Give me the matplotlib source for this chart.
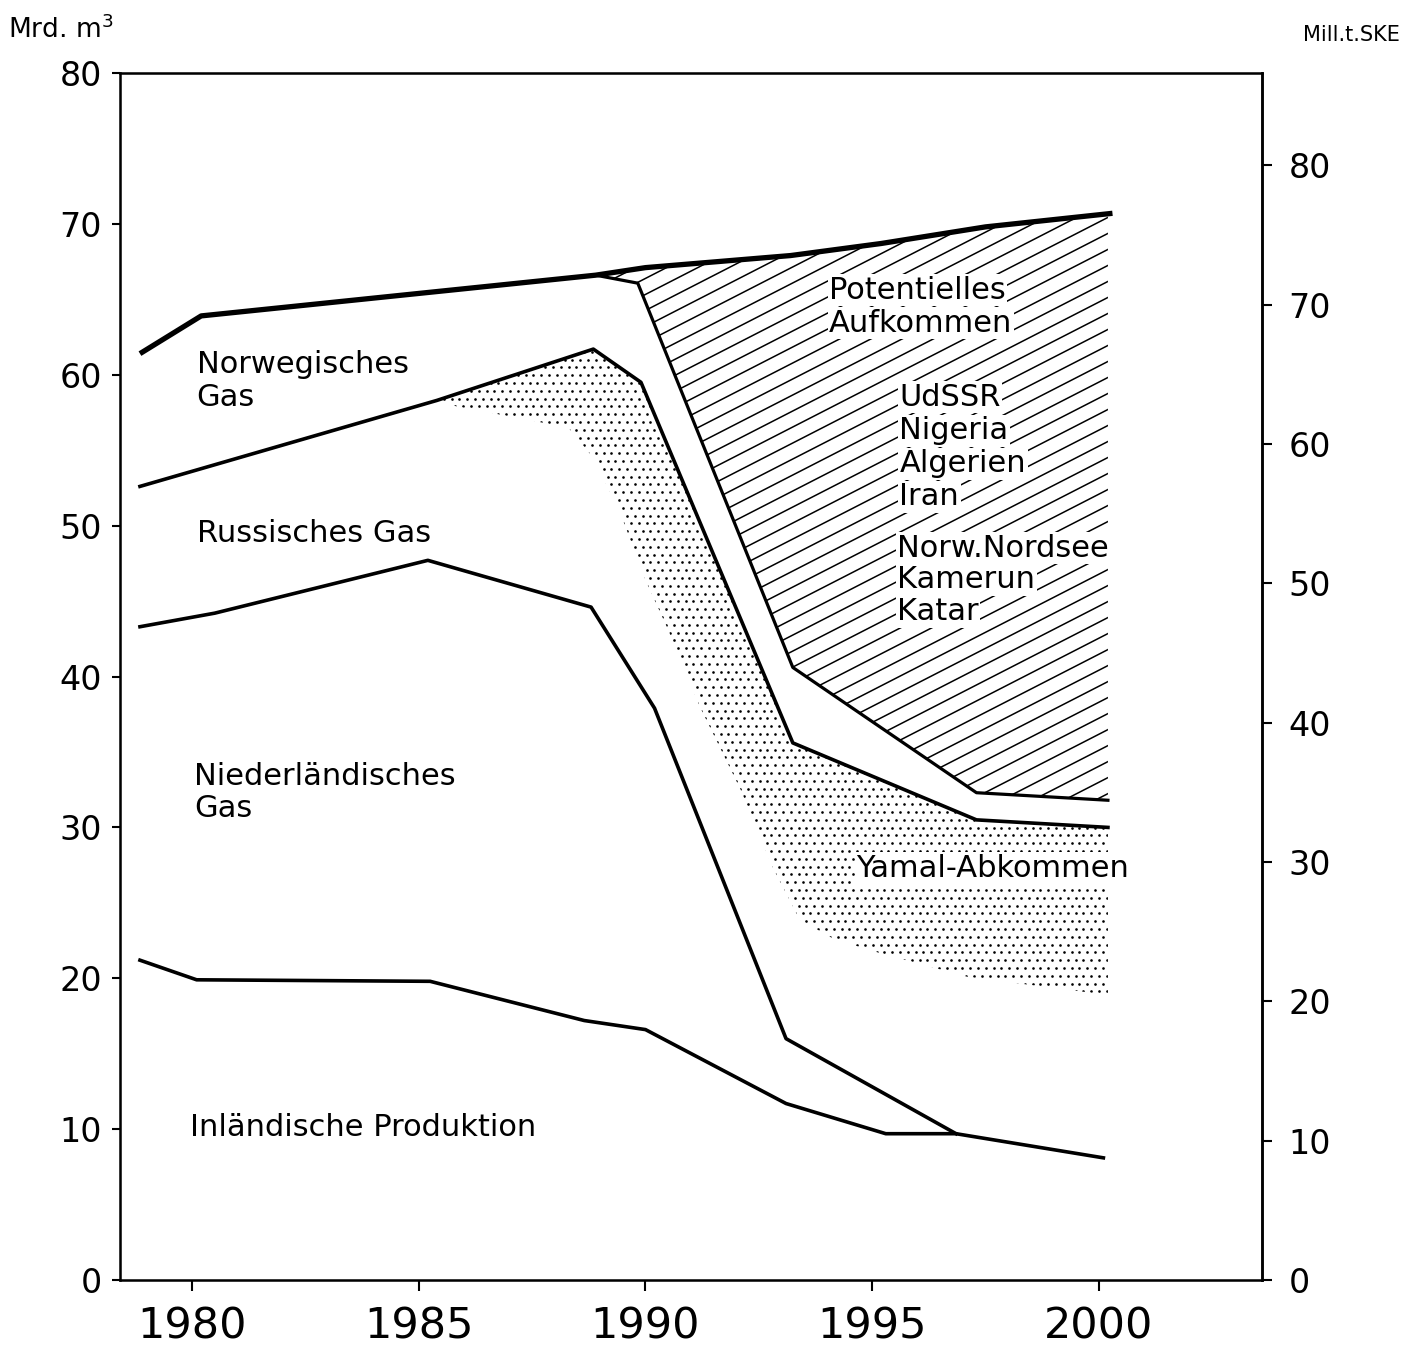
import numpy as np
import matplotlib
matplotlib.use('Agg')
import matplotlib.pyplot as plt
from matplotlib import font_manager
from matplotlib.collections import LineCollection

# --- data (Mrd. m3) ---
total_years = [1978.85, 1980.2, 1988.9, 1990.0, 1993.2, 1995.2, 1997.5, 2000.3]
total_vals = [61.4, 63.9, 66.6, 67.1, 67.9, 68.7, 69.8, 70.7]

pot_years = [1988.9, 1989.83, 1993.25, 1997.3, 2000.2]   # lower edge of "Potentielles Aufkommen"
pot_vals = [66.6, 66.07, 40.6, 32.3, 31.8]

norw_years = [1978.85, 1985.4, 1988.85, 1989.9, 1993.25, 1997.3, 2000.2]  # top of russian gas
norw_vals = [52.6, 58.3, 61.7, 59.5, 35.6, 30.5, 30.0]

russ_years = [1978.85, 1980.5, 1985.2, 1988.8, 1990.2, 1993.1, 1996.85]   # top of dutch gas
russ_vals = [43.3, 44.2, 47.7, 44.6, 37.9, 16.0, 9.7]

inl_years = [1978.85, 1980.1, 1985.25, 1988.65, 1990.0, 1993.1, 1995.3, 1996.85, 2000.1]
inl_vals = [21.2, 19.9, 19.8, 17.2, 16.6, 11.7, 9.7, 9.7, 8.1]

yamal_years = [1985.5, 1987.6, 1988.3, 1988.85, 1989.45, 1990.0, 1990.5, 1991.2,
               1992.1, 1992.8, 1993.4, 1994.1, 1994.9, 1997.1, 2000.2]
yamal_low = [58.1, 56.9, 56.5, 54.5, 50.8, 46.4, 43.1, 38.0,
             32.5, 27.4, 23.9, 22.7, 21.9, 20.1, 18.9]

x_ticks = [1980, 1985, 1990, 1995, 2000]
y_ticks = list(range(0, 81, 10))
ske_ticks = list(range(0, 81, 10))
ske_factor = 1.083  # Mill. t SKE per Mrd. m3

plt.rcParams['font.family'] = ['DejaVu Sans']

# narrow face for the year labels if there is one
try:
    font_manager.findfont('Liberation Sans Narrow', fallback_to_default=False)
    year_font, year_size = 'Liberation Sans Narrow', 39
except ValueError:
    year_font, year_size = 'DejaVu Sans', 31

fig = plt.figure(figsize=(14.07, 13.49), dpi=100)
ax = fig.add_axes([0.0853, 0.0511, 0.8117, 0.8948])
ax.set_xlim(1978.41, 2003.6)
ax.set_ylim(0, 80)

# hatched area: potential supply
gx = np.linspace(pot_years[0], pot_years[-1], 400)
poly_pot = ax.fill_between(gx, np.interp(gx, total_years, total_vals),
                           np.interp(gx, pot_years, pot_vals),
                           facecolor='none', edgecolor='none', lw=0)
path_pot = poly_pot.get_paths()[0]
slope = 0.485
segs = [[(0, c), (1, c + slope)] for c in np.arange(-0.6, 1.0, 0.01326)]
hatch = LineCollection(segs, colors='black', linewidths=1.1, transform=ax.transAxes, zorder=2)
ax.add_collection(hatch)
hatch.set_clip_path(path_pot, ax.transData)

# stippled area: Yamal agreement
sx = np.linspace(yamal_years[0], yamal_years[-1], 400)
poly_yam = ax.fill_between(sx, np.interp(sx, norw_years, norw_vals),
                           np.interp(sx, yamal_years, yamal_low),
                           facecolor='none', edgecolor='none', lw=0)
path_yam = poly_yam.get_paths()[0]
dx, dy = 7.8 / 1142, 7.8 / 1207
rows = np.arange(0, 1, dy)
pts = []
for i, yy in enumerate(rows):
    xs = np.arange((i % 2) * dx / 2, 1, dx)
    pts.append(np.column_stack([xs, np.full_like(xs, yy)]))
pts = np.vstack(pts)
dots = ax.scatter(pts[:, 0], pts[:, 1], s=3.6, c='black', linewidths=0,
                  transform=ax.transAxes, zorder=2)
dots.set_clip_path(path_yam, ax.transData)

# boundary lines
ax.plot(total_years, total_vals, color='black', lw=3.8, solid_capstyle='butt', zorder=4)
ax.plot(pot_years, pot_vals, color='black', lw=2.3, zorder=3)
ax.plot(norw_years, norw_vals, color='black', lw=2.6, zorder=3)
ax.plot(russ_years, russ_vals, color='black', lw=2.6, zorder=3)
ax.plot(inl_years, inl_vals, color='black', lw=2.6, zorder=3)

# labels
lab = dict(fontsize=22, color='black', ha='left', va='center', linespacing=1.15, zorder=5)
box = dict(facecolor='white', edgecolor='none', pad=1.0)
ax.text(1980.1, 59.6, 'Norwegisches\nGas', **lab)
ax.text(1980.1, 49.5, 'Russisches Gas', **lab)
ax.text(1980.05, 32.3, 'Niederländisches\nGas', **lab)
ax.text(1979.95, 10.1, 'Inländische Produktion', **lab)
ax.text(1994.65, 27.3, 'Yamal-Abkommen', bbox=box, **lab)

# labels inside the hatching, one line each so the hatch shows around them
pot_labels = [(1994.05, 65.6, 'Potentielles'), (1994.05, 63.4, 'Aufkommen'),
              (1995.6, 58.5, 'UdSSR'), (1995.6, 56.3, 'Nigeria'),
              (1995.6, 54.1, 'Algerien'), (1995.6, 51.9, 'Iran'),
              (1995.55, 48.5, 'Norw.Nordsee'), (1995.55, 46.4, 'Kamerun'),
              (1995.55, 44.3, 'Katar')]
for lx, ly, txt in pot_labels:
    ax.text(lx, ly, txt, bbox=box, **lab)

# axes styling
for s in ax.spines.values():
    s.set_linewidth(1.8)
ax.set_xticks(x_ticks)
ax.set_yticks(y_ticks)
ax.tick_params(axis='x', direction='out', length=8, width=1.5, pad=10)
ax.tick_params(axis='y', direction='out', length=6, width=1.5, pad=7, labelsize=24)
for t in ax.get_xticklabels():
    t.set_fontfamily(year_font)
    t.set_fontsize(year_size)

ax2 = ax.twinx()
ax2.set_ylim(0, 80 * ske_factor)
ax2.set_yticks(ske_ticks)
ax2.tick_params(axis='y', direction='out', length=7, width=1.5, pad=12, labelsize=24)
ax2.spines['right'].set_linewidth(1.8)

fig.text(8 / 1407, 1 - 30 / 1349, 'Mrd. m$^3$', fontsize=19, ha='left', va='center')
fig.text(1400 / 1407, 1 - 35 / 1349, 'Mill.t.SKE', fontsize=15, ha='right', va='center')

fig.savefig('out.png', dpi=100)
